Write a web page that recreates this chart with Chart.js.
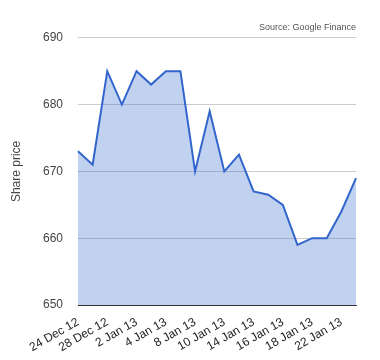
<!DOCTYPE html>
<html>
<head>
<meta charset="utf-8">
<script src="https://cdn.jsdelivr.net/npm/chart.js@4/dist/chart.umd.min.js"></script>
<style>
html,body{margin:0;padding:0;background:#fff;}
#wrap{width:380px;height:360px;}
</style>
</head>
<body>
<div id="wrap"><canvas id="c" width="380" height="360"></canvas></div>
<script>
const dates = ["24 Dec 12","27 Dec 12","28 Dec 12","31 Dec 12","2 Jan 13","3 Jan 13","4 Jan 13","7 Jan 13","8 Jan 13","9 Jan 13","10 Jan 13","11 Jan 13","14 Jan 13","15 Jan 13","16 Jan 13","17 Jan 13","18 Jan 13","21 Jan 13","22 Jan 13","23 Jan 13"];
const prices = [673,671,685,680,685,683,685,685,670,679,670,672.5,667,666.5,665,659,660,660,664,669];
const yTicks = [650,660,670,680,690];
const sourceText = "Source: Google Finance";
const yTitle = "Share price";

const ctx = document.getElementById('c').getContext('2d');
new Chart(ctx, {
  type: 'line',
  data: {
    labels: dates,
    datasets: [{
      data: prices,
      borderColor: '#3366cc',
      backgroundColor: 'rgba(51,102,204,0.3)',
      borderWidth: 2,
      fill: 'origin',
      pointRadius: 0,
      tension: 0
    }]
  },
  options: {
    responsive: false,
    animation: false,
    layout: { padding: { left: 0, right: 24, top: 0, bottom: 0 } },
    plugins: {
      legend: { display: false },
      tooltip: { enabled: false },
      title: {
        display: true,
        text: sourceText,
        align: 'end',
        color: '#555',
        font: { family: 'Liberation Sans, Arial', size: 9, weight: 'normal' },
        padding: { top: 22, bottom: 5 }
      }
    },
    scales: {
      x: {
        grid: { display: false },
        border: { display: true, color: '#333', width: 1 },
        ticks: {
          autoSkip: false,
          maxRotation: 30,
          minRotation: 30,
          color: '#222',
          padding: 2,
          font: { family: 'Liberation Sans, Arial', size: 12 },
          callback: function(v, i) { return i % 2 === 0 ? dates[i] : ''; }
        },
        afterFit: function(s) { s.height = 55; }
      },
      y: {
        min: 650,
        max: 690,
        afterBuildTicks: function(s) { s.ticks = yTicks.map(v => ({ value: v })); },
        grid: { color: '#cccccc', drawTicks: false },
        border: { display: false },
        ticks: {
          color: '#444',
          padding: 15,
          font: { family: 'Liberation Sans, Arial', size: 12 }
        },
        title: {
          display: true,
          text: yTitle,
          color: '#444',
          font: { family: 'Liberation Sans, Arial', size: 12 },
          padding: { top: 9, bottom: 0 }
        },
        afterFit: function(s) { s.width = 78; }
      }
    }
  }
});
</script>
</body>
</html>
